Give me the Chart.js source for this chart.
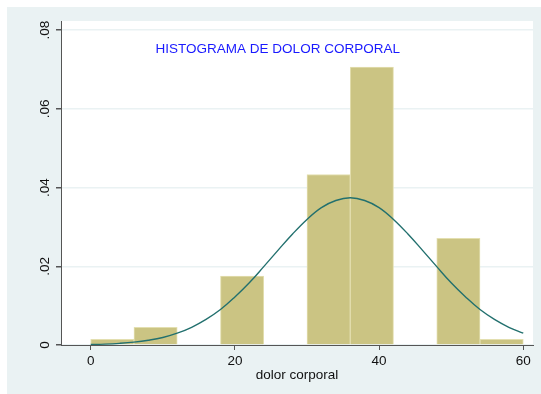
<!DOCTYPE html>
<html>
<head>
<meta charset="utf-8">
<script src="https://cdn.jsdelivr.net/npm/chart.js@4.4.1/dist/chart.umd.min.js"></script>
<style>
  html, body { margin: 0; padding: 0; background: #ffffff; }
  #wrap { width: 541px; height: 394px; position: relative; }
</style>
</head>
<body>
<div id="wrap"><canvas id="hist"></canvas></div>
<script>
// Histogram bins (left edges, width) and their densities
const binStarts = [0, 6, 18, 30, 36, 48, 54];
const binWidth = 6;
const densities = [0.00145, 0.0045, 0.0175, 0.0433, 0.0706, 0.0271, 0.00145];

// Overlaid normal density curve, sampled every 2 units
const curveX = [0, 2, 4, 6, 8, 10, 12, 14, 16, 18, 20, 22, 24, 26, 28, 30,
                32, 34, 36, 38, 40, 42, 44, 46, 48, 50, 52, 54, 56, 58, 60];
const curveY = [0.00013, 0.00023, 0.00042, 0.00072, 0.0012, 0.0019, 0.003, 0.0045,
                0.0065, 0.009, 0.0122, 0.0158, 0.0199, 0.0241, 0.0282, 0.0319,
                0.0349, 0.0367, 0.0374, 0.0367, 0.0349, 0.0319, 0.0282, 0.0241,
                0.0199, 0.0158, 0.0122, 0.009, 0.0065, 0.0045, 0.003];

// Axis ticks
const xTickValues = [0, 20, 40, 60];
const xTickLabels = ['0', '20', '40', '60'];
const yTickValues = [0, 0.02, 0.04, 0.06, 0.08];
const yTickLabels = ['0', '.02', '.04', '.06', '.08'];

const chartTitle = 'HISTOGRAMA DE DOLOR CORPORAL';
const xAxisTitle = 'dolor corporal';

const FONT = "'Liberation Sans', Arial, sans-serif";
const PANEL = '#eaf2f3';
const AXIS = '#555555';

const barData = binStarts.map((s, i) => ({ x: s + binWidth / 2, y: densities[i] }));
const lineData = curveX.map((x, i) => ({ x: x, y: curveY[i] }));

// Light panel behind the plot, white plot region
const backgroundPlugin = {
  id: 'panelBackground',
  beforeDraw(chart) {
    const { ctx, chartArea } = chart;
    ctx.save();
    ctx.fillStyle = '#ffffff';
    ctx.fillRect(0, 0, chart.width, chart.height);
    ctx.fillStyle = PANEL;
    ctx.fillRect(7, 7, chart.width - 7, chart.height - 7);
    ctx.fillStyle = '#ffffff';
    ctx.fillRect(chartArea.left, chartArea.top,
                 chartArea.right - chartArea.left, chartArea.bottom - chartArea.top);
    ctx.restore();
  }
};

// Title written inside the plot region
const innerTitlePlugin = {
  id: 'innerTitle',
  afterDatasetsDraw(chart) {
    const { ctx, chartArea } = chart;
    ctx.save();
    ctx.font = '13.5px ' + FONT;
    ctx.fillStyle = '#1a1aff';
    ctx.textAlign = 'left';
    ctx.textBaseline = 'middle';
    ctx.fillText(chartTitle, chartArea.left + 94.6, chartArea.top + 28.5);
    ctx.restore();
  }
};

new Chart(document.getElementById('hist'), {
  type: 'bar',
  data: {
    datasets: [
      {
        type: 'line',
        data: lineData,
        borderColor: '#22706e',
        borderWidth: 1.4,
        pointRadius: 0,
        tension: 0.4,
        fill: false
      },
      {
        type: 'bar',
        data: barData,
        backgroundColor: '#cbc483',
        borderColor: '#e3dfb0',
        borderWidth: 1,
        barPercentage: 1,
        categoryPercentage: 1
      }
    ]
  },
  options: {
    responsive: true,
    maintainAspectRatio: false,
    animation: false,
    layout: { padding: { left: 0, top: 21, right: 8, bottom: 0 } },
    plugins: {
      legend: { display: false },
      tooltip: { enabled: false },
      title: { display: false }
    },
    scales: {
      x: {
        type: 'linear',
        offset: false,
        min: -4.12,
        max: 61.35,
        afterBuildTicks(scale) { scale.ticks = xTickValues.map(v => ({ value: v })); },
        afterFit(scale) { scale.height = 49; scale.paddingLeft = 0; scale.paddingRight = 0; },
        ticks: {
          autoSkip: false,
          maxRotation: 0,
          padding: 3,
          color: '#111111',
          font: { family: FONT, size: 13.5 },
          callback: (v, i) => xTickLabels[i]
        },
        grid: {
          offset: false,
          drawOnChartArea: false,
          drawTicks: true,
          tickLength: 5,
          tickColor: AXIS
        },
        border: { display: true, color: AXIS, width: 1 },
        title: {
          display: true,
          text: xAxisTitle,
          color: '#111111',
          font: { family: FONT, size: 13.5 },
          padding: { top: 0, bottom: 11 }
        }
      },
      y: {
        type: 'linear',
        min: 0,
        max: 0.0823,
        afterBuildTicks(scale) { scale.ticks = yTickValues.map(v => ({ value: v })); },
        afterFit(scale) { scale.width = 61; scale.paddingTop = 0; scale.paddingBottom = 0; },
        ticks: {
          autoSkip: false,
          minRotation: 90,
          maxRotation: 90,
          crossAlign: 'center',
          padding: 1.6,
          color: '#111111',
          font: { family: FONT, size: 13.5 },
          callback: (v, i) => yTickLabels[i]
        },
        grid: {
          color: PANEL,
          lineWidth: 1.5,
          drawTicks: true,
          tickLength: 5,
          tickColor: AXIS
        },
        border: { display: true, color: AXIS, width: 1 }
      }
    }
  },
  plugins: [backgroundPlugin, innerTitlePlugin]
});
</script>
</body>
</html>
